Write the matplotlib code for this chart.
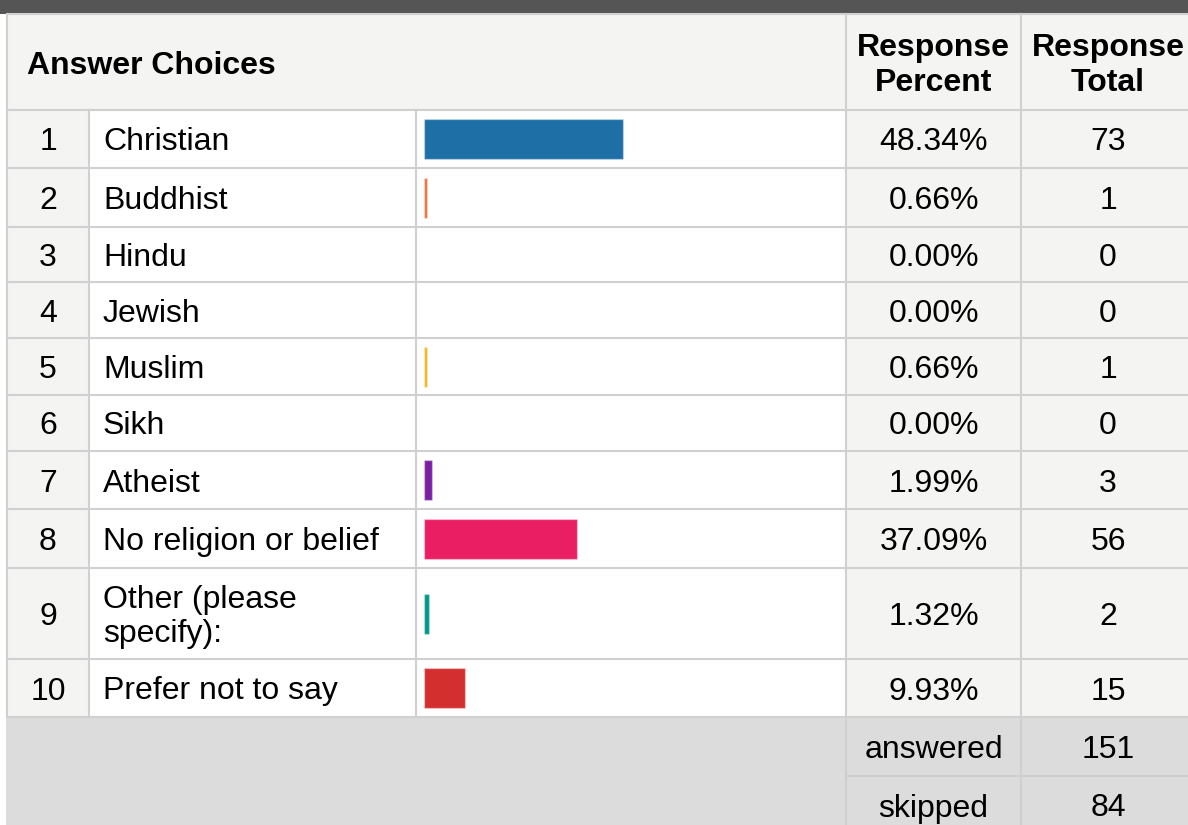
import matplotlib.pyplot as plt
from matplotlib.patches import Rectangle

plt.rcParams['font.family'] = ['Liberation Sans', 'DejaVu Sans']

# data
numbers = list(range(1, 11))
choices = ["Christian", "Buddhist", "Hindu", "Jewish", "Muslim", "Sikh", "Atheist",
           "No religion or belief", "Other (please\nspecify):", "Prefer not to say"]
percents = [48.34, 0.66, 0.00, 0.00, 0.66, 0.00, 1.99, 37.09, 1.32, 9.93]
totals = [73, 1, 0, 0, 1, 0, 3, 56, 2, 15]
answered = 151
skipped = 84
bar_colors = ["#1d6fa5", "#f26b38", "#fbb117", "#fbb117", "#fbb117", "#fbb117",
              "#7b1fa2", "#e91e63", "#009688", "#d32f2f"]

# layout in pixels
W, H = 1188, 825
row_edges = [110, 168, 227, 282, 338, 395, 451, 509, 568, 659, 717]
x_left, x_num, x_bar, x_pct, x_tot, x_right = 7, 89, 416, 846, 1021, 1195
grid = "#d0d0d0"
light = "#f4f4f2"
foot = "#dcdcdc"
fs = 23
dy = 3.5  # nudge text down a bit
ls = 1.2

fig = plt.figure(figsize=(W / 100, H / 100), dpi=100)
ax = fig.add_axes([0, 0, 1, 1])
ax.set_xlim(0, W)
ax.set_ylim(H, 0)
ax.axis("off")

def cell(x0, y0, x1, y1, c):
    ax.add_patch(Rectangle((x0, y0), x1 - x0, y1 - y0, facecolor=c, edgecolor="none"))

# backgrounds
cell(0, 0, W, 14, "#555555")
cell(x_left, 14, x_right, row_edges[0], light)
for top, bot in zip(row_edges[:-1], row_edges[1:]):
    cell(x_left, top, x_num, bot, light)
    cell(x_num, top, x_pct, bot, "white")
    cell(x_pct, top, x_right, bot, light)
cell(x_left - 1, row_edges[-1], x_right, H, foot)

# grid lines
lw = 1.5
ax.plot([x_left, x_right], [14, 14], color=grid, lw=lw)
for y in row_edges:
    ax.plot([x_left, x_right], [y, y], color=grid, lw=lw)
ax.plot([x_pct, x_right], [776, 776], color="#cfcfcf", lw=lw)
ax.plot([x_left, x_left], [14, row_edges[-1]], color=grid, lw=lw)
for x in (x_num, x_bar):
    ax.plot([x, x], [row_edges[0], row_edges[-1]], color=grid, lw=lw)
for x in (x_pct, x_tot):
    ax.plot([x, x], [14, H], color=grid, lw=lw)

# header
cx_pct = (x_pct + x_tot) / 2
cx_tot = (x_tot + x_right) / 2
hy = (14 + row_edges[0]) / 2 + dy
ax.text(27, hy, "Answer Choices", fontsize=fs, fontweight="bold", va="center", ha="left")
ax.text(cx_pct, hy, "Response\nPercent", fontsize=fs, fontweight="bold",
        va="center", ha="center", linespacing=ls)
ax.text(cx_tot, hy, "Response\nTotal", fontsize=fs, fontweight="bold",
        va="center", ha="center", linespacing=ls)

# rows
centers = [(a + b) / 2 for a, b in zip(row_edges[:-1], row_edges[1:])]
for n, lab, p, t, cy in zip(numbers, choices, percents, totals, centers):
    ty = cy + dy
    ax.text((x_left + x_num) / 2, ty, str(n), fontsize=fs, va="center", ha="center")
    ax.text(103, ty, lab, fontsize=fs, va="center", ha="left", linespacing=ls)
    ax.text(cx_pct, ty, f"{p:.2f}%", fontsize=fs, va="center", ha="center")
    ax.text(cx_tot, ty, str(t), fontsize=fs, va="center", ha="center")

# footer
ax.text(cx_pct, 747 + dy, "answered", fontsize=fs, va="center", ha="center")
ax.text(cx_tot, 747 + dy, str(answered), fontsize=fs, va="center", ha="center")
ax.text(cx_pct, 805 + dy, "skipped", fontsize=fs, va="center", ha="center")
ax.text(cx_tot, 805 + dy, str(skipped), fontsize=fs, va="center", ha="center")

# bars
bax = fig.add_axes([424 / W, 0, 412 / W, 1])
bax.set_xlim(0, 100)
bax.set_ylim(H, 0)
bax.axis("off")
bax.patch.set_alpha(0)
bax.barh(centers, percents, height=40, color=bar_colors,
         edgecolor=(1, 1, 1, 0.35), linewidth=1)

fig.savefig("out.png", dpi=100)
